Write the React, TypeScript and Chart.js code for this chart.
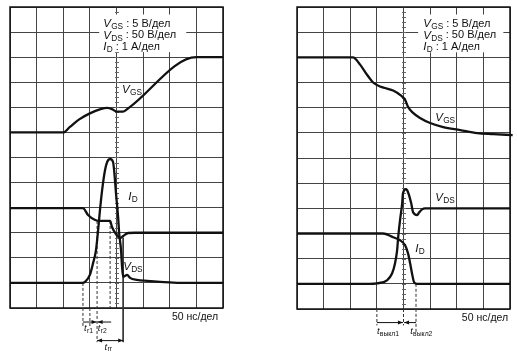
import React, { useEffect, useRef } from "react";
import { Chart, registerables } from "chart.js";

Chart.register(...registerables);

// x: time in screen divisions (50 нс/дел), y: screen divisions (0 = bottom graticule line)

// ---- Left panel: turn-on ----
const onVgsX = [0, 2.0, 2.25, 2.6, 3.0, 3.4, 3.65, 3.85, 4.0, 4.25, 4.45, 7.0, 8];
const onVgsY = [7, 7, 7.22, 7.52, 7.76, 7.93, 7.98, 7.92, 7.83, 7.83, 7.97, 10, 10];

const onIdX = [0, 2.71, 2.82, 3.0, 3.12, 3.23, 3.31, 3.38, 3.46, 3.57, 3.65, 3.76, 3.87, 3.91, 3.98, 4.06, 4.1, 4.17, 4.21, 4.25, 4.32, 4.4, 4.51, 4.77, 5.15, 5.64, 6.39, 8];
const onIdY = [1, 1, 1.04, 1.32, 1.79, 2.31, 3.11, 3.91, 4.7, 5.5, 5.82, 5.94, 5.82, 5.5, 4.59, 3.63, 2.99, 2.31, 1.63, 1.24, 1.28, 1.32, 1.2, 1.12, 1.08, 1.04, 1.0, 1.0];

const onVdsX = [0, 2.74, 2.93, 3.2, 3.38, 3.76, 3.83, 3.98, 4.14, 4.25, 4.44, 4.7, 8];
const onVdsY = [3.98, 3.98, 3.71, 3.51, 3.47, 3.47, 3.23, 2.95, 2.79, 2.87, 2.99, 3.0, 3.0];

// marker lines: x, top, bottom, dashed
const onMarkX = [2.74, 3.0, 3.27, 3.76, 4.25];
const onMarkTop = [1.0, 0, 3.47, 3.47, 2.8];
const onMarkBottom = [-0.76, -0.76, -1.36, 0, -1.36];
const onMarkDashed = [true, true, true, true, false];

// ---- Right panel: turn-off ----
const offVgsX = [0, 2.1, 2.37, 2.63, 2.86, 3.12, 3.38, 3.61, 3.87, 4.06, 4.17, 4.36, 4.62, 5.0, 5.49, 6.13, 6.77, 7.37, 8.1];
const offVgsY = [10, 10, 9.71, 9.31, 9.0, 8.84, 8.76, 8.68, 8.51, 8.31, 8.03, 7.79, 7.59, 7.39, 7.23, 7.11, 6.99, 6.95, 6.91];

const offVdsX = [0, 2.74, 3.0, 3.38, 3.57, 3.68, 3.76, 3.8, 3.87, 3.95, 3.98, 4.1, 4.17, 4.29, 4.36, 4.51, 4.59, 4.7, 4.81, 8];
const offVdsY = [1.0, 1.0, 1.02, 1.14, 1.41, 1.81, 2.33, 2.85, 3.53, 4.2, 4.6, 4.76, 4.64, 4.2, 3.84, 3.73, 3.84, 3.96, 4.0, 4.0];

const offIdX = [0, 3.23, 3.61, 3.87, 4.06, 4.17, 4.25, 4.32, 4.4, 4.51, 8];
const offIdY = [3.0, 3.0, 2.85, 2.73, 2.53, 2.21, 1.81, 1.41, 1.06, 1.0, 1.0];

const offMarkX = [3.0, 4.0, 4.47];
const offMarkTop = [0, 0, 1.0];
const offMarkBottom = [-0.65, -0.65, -0.94];
const offMarkDashed = [true, true, true];

const scaleLegend: [string, string, string][] = [
  ["V", "GS", " : 5 В/дел"],
  ["V", "DS", " : 50 В/дел"],
  ["I", "D", " : 1 А/дел"],
];
const timeScaleLabel = "50 нс/дел";

const FONT = '"Liberation Sans", Arial, Helvetica, sans-serif';
const INK = "#111";

const zip = (xs: number[], ys: number[]) => xs.map((x, i) => ({ x, y: ys[i] }));

function trace(xs: number[], ys: number[], extra: any = {}) {
  return {
    data: zip(xs, ys),
    borderColor: INK,
    borderWidth: 2.3,
    pointRadius: 0,
    fill: false,
    cubicInterpolationMode: "monotone",
    ...extra,
  };
}

function markers(xs: number[], tops: number[], bottoms: number[], dashed: boolean[]) {
  return xs.map((x, i) => ({
    data: [
      { x, y: tops[i] },
      { x, y: bottoms[i] },
    ],
    borderColor: "#333",
    borderWidth: 1,
    borderDash: dashed[i] ? [3, 2] : [],
    pointRadius: 0,
    fill: false,
    tension: 0,
    clip: false,
  }));
}

function drawSym(ctx: CanvasRenderingContext2D, x: number, y: number, main: string, sub: string, size: number, tail?: string, tailSize?: number) {
  ctx.textBaseline = "middle";
  ctx.textAlign = "left";
  ctx.fillStyle = INK;
  ctx.font = `italic ${size}px ${FONT}`;
  ctx.fillText(main, x, y);
  let cx = x + ctx.measureText(main).width + 0.3;
  const ss = Math.round(size * 0.72 * 10) / 10;
  ctx.font = `${ss}px ${FONT}`;
  ctx.fillText(sub, cx, y + size * 0.25);
  cx += ctx.measureText(sub).width;
  if (tail) {
    ctx.font = `${tailSize || size}px ${FONT}`;
    ctx.fillText(tail, cx, y);
  }
}

function head(ctx: CanvasRenderingContext2D, x: number, y: number, dir: number) {
  ctx.beginPath();
  ctx.moveTo(x, y);
  ctx.lineTo(x - dir * 5, y - 2);
  ctx.lineTo(x - dir * 5, y + 2);
  ctx.closePath();
  ctx.fill();
}

function hArrow(ctx: CanvasRenderingContext2D, x1: number, x2: number, y: number, headAtEnd: boolean, headAtStart = false) {
  ctx.strokeStyle = INK;
  ctx.fillStyle = INK;
  ctx.lineWidth = 1;
  ctx.setLineDash([]);
  ctx.beginPath();
  ctx.moveTo(x1, y);
  ctx.lineTo(x2, y);
  ctx.stroke();
  const dir = x2 > x1 ? 1 : -1;
  if (headAtEnd) head(ctx, x2, y, dir);
  if (headAtStart) head(ctx, x1, y, -dir);
}

type Decor = {
  boxX: [number, number];
  legendX: number;
  extra: (chart: any, ctx: CanvasRenderingContext2D, X: (d: number) => number, Y: (v: number) => number) => void;
};

function decorPlugin(dec: Decor) {
  return {
    id: "scopeDecor",
    beforeDatasetsDraw(chart: any) {
      const ctx: CanvasRenderingContext2D = chart.ctx;
      const X = (d: number) => chart.scales.x.getPixelForValue(d);
      const Y = (v: number) => chart.scales.y.getPixelForValue(v);
      const a = chart.chartArea;
      ctx.save();
      // minor ticks on the centre vertical line
      ctx.strokeStyle = "#666";
      ctx.lineWidth = 1;
      ctx.beginPath();
      for (let v = 0.2; v < 12; v += 0.2) {
        const yy = Math.round(Y(v)) + 0.5;
        ctx.moveTo(X(4) - 1.5, yy);
        ctx.lineTo(X(4) + 2.5, yy);
      }
      ctx.stroke();
      // white box behind scale legend
      ctx.fillStyle = "#fff";
      const bx1 = X(dec.boxX[0]);
      const bx2 = X(dec.boxX[1]);
      const by1 = Y(11.7);
      const by2 = Y(10.2);
      ctx.fillRect(bx1, by1, bx2 - bx1, by2 - by1);
      // frame
      ctx.strokeStyle = INK;
      ctx.lineWidth = 1.5;
      ctx.strokeRect(a.left, a.top, a.right - a.left, a.bottom - a.top);
      // legend text
      const ly = [11.32, 10.87, 10.41];
      scaleLegend.forEach((row, i) => {
        drawSym(ctx, X(dec.legendX), Y(ly[i]), row[0], row[1], 11.5, row[2], 11);
      });
      ctx.restore();
    },
    afterDatasetsDraw(chart: any) {
      const ctx: CanvasRenderingContext2D = chart.ctx;
      const X = (d: number) => chart.scales.x.getPixelForValue(d);
      const Y = (v: number) => chart.scales.y.getPixelForValue(v);
      ctx.save();
      dec.extra(chart, ctx, X, Y);
      ctx.restore();
    },
  };
}

function makeConfig(datasets: any[], padding: any, dec: Decor) {
  const grid = { color: "#444", lineWidth: 1, drawTicks: false };
  return {
    type: "line",
    data: { datasets },
    options: {
      responsive: false,
      animation: false,
      parsing: false,
      events: [],
      layout: { padding },
      plugins: { legend: { display: false }, tooltip: { enabled: false } },
      scales: {
        x: {
          type: "linear",
          min: 0,
          max: 8,
          ticks: { display: false, stepSize: 1 },
          grid,
          border: { display: false },
        },
        y: {
          type: "linear",
          min: 0,
          max: 12,
          ticks: { display: false, stepSize: 1 },
          grid,
          border: { display: false },
        },
      },
    },
    plugins: [decorPlugin(dec)],
  } as any;
}

const leftDecor: Decor = {
  boxX: [3.35, 6.62],
  legendX: 3.5,
  extra: (chart, ctx, X, Y) => {
    drawSym(ctx, X(4.21), Y(8.69), "V", "GS", 11.5);
    drawSym(ctx, X(4.44), Y(4.43), "I", "D", 11.5);
    drawSym(ctx, X(4.25), Y(1.63), "V", "DS", 11.5);
    ctx.font = `10.5px ${FONT}`;
    ctx.textAlign = "right";
    ctx.textBaseline = "middle";
    ctx.fillStyle = INK;
    ctx.fillText(timeScaleLabel, X(7.82), Y(-0.36));
    hArrow(ctx, X(2.74), X(3.25), Y(-0.56), true);
    hArrow(ctx, X(3.8), X(3.29), Y(-0.56), true);
    hArrow(ctx, X(3.27), X(4.25), Y(-1.3), true, true);
    drawSym(ctx, X(2.78), Y(-0.82), "t", "r1", 9.5);
    drawSym(ctx, X(3.3), Y(-0.82), "t", "r2", 9.5);
    drawSym(ctx, X(3.55), Y(-1.55), "t", "rr", 9.5);
  },
};

const rightDecor: Decor = {
  boxX: [4.55, 7.75],
  legendX: 4.74,
  extra: (chart, ctx, X, Y) => {
    drawSym(ctx, X(5.19), Y(7.6), "V", "GS", 11.5);
    drawSym(ctx, X(5.19), Y(4.4), "V", "DS", 11.5);
    drawSym(ctx, X(4.44), Y(2.41), "I", "D", 11.5);
    ctx.font = `10.5px ${FONT}`;
    ctx.textAlign = "right";
    ctx.textBaseline = "middle";
    ctx.fillStyle = INK;
    ctx.fillText(timeScaleLabel, X(7.93), Y(-0.38));
    hArrow(ctx, X(3.0), X(3.98), Y(-0.54), true);
    hArrow(ctx, X(4.47), X(4.02), Y(-0.54), true);
    drawSym(ctx, X(3.0), Y(-0.9), "t", "выкл1", 9.5);
    drawSym(ctx, X(4.25), Y(-0.9), "t", "выкл2", 9.5);
  },
};

export default function App() {
  const leftRef = useRef<HTMLCanvasElement>(null);
  const rightRef = useRef<HTMLCanvasElement>(null);

  useEffect(() => {
    const left = new Chart(
      leftRef.current as HTMLCanvasElement,
      makeConfig(
        [
          trace(onVgsX, onVgsY),
          trace(onIdX, onIdY),
          trace(onVdsX, onVdsY),
          ...markers(onMarkX, onMarkTop, onMarkBottom, onMarkDashed),
        ],
        { left: 10, top: 7, right: 35, bottom: 47 },
        leftDecor
      )
    );
    const right = new Chart(
      rightRef.current as HTMLCanvasElement,
      makeConfig(
        [
          trace(offVgsX, offVgsY, { clip: { left: 0, top: 0, right: 6, bottom: 0 } }),
          trace(offVdsX, offVdsY),
          trace(offIdX, offIdY),
          ...markers(offMarkX, offMarkTop, offMarkBottom, offMarkDashed),
        ],
        { left: 39, top: 7, right: 7, bottom: 46 },
        rightDecor
      )
    );
    return () => {
      left.destroy();
      right.destroy();
    };
  }, []);

  return (
    <div style={{ position: "absolute", left: 0, top: 0, width: 517, height: 355, background: "#fff" }}>
      <canvas ref={leftRef} width={258} height={355} style={{ position: "absolute", left: 0, top: 0 }} />
      <canvas ref={rightRef} width={259} height={355} style={{ position: "absolute", left: 258, top: 0 }} />
    </div>
  );
}
